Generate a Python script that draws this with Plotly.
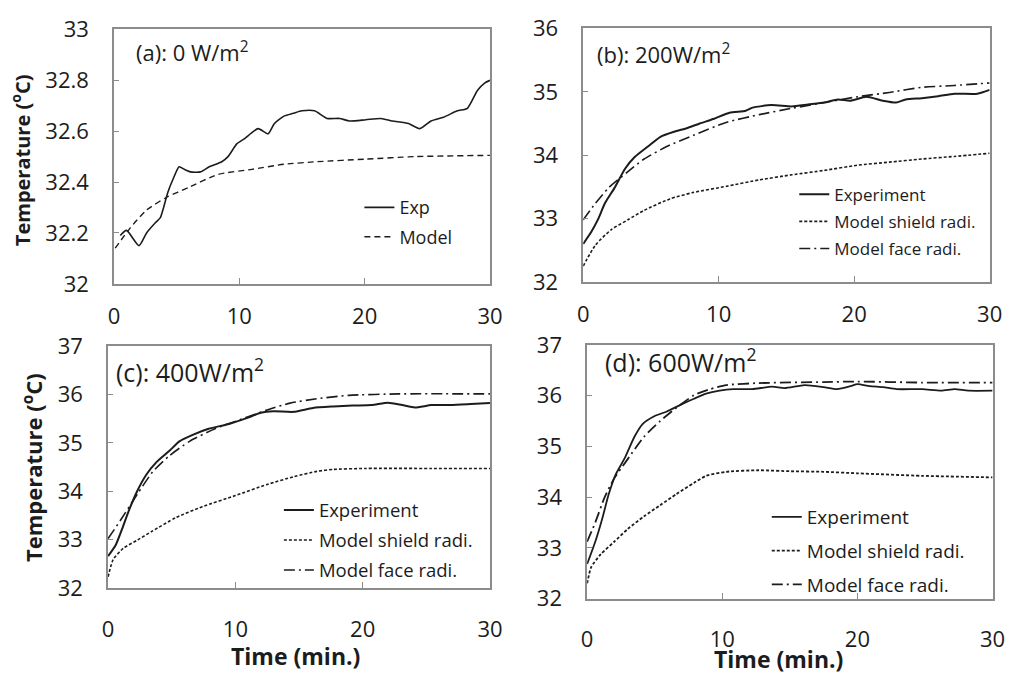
import plotly.graph_objects as go

# ---------------- data ----------------
# (a) 0 W/m2
a_exp_t = [0.5, 1.0, 2.0, 2.6, 3.3, 3.7, 3.9, 4.3, 4.7, 5.2, 5.6, 6.1, 6.9, 7.6, 8.6, 9.1, 9.8, 10.4,
           11.5, 12.3, 12.8, 13.6, 14.3, 15.0, 16.0, 17.0, 18.0, 18.8, 20.1, 21.3, 22.2, 23.5, 24.4,
           25.3, 26.3, 27.4, 28.2, 29.0, 29.6, 30.0]
a_exp_v = [32.19, 32.21, 32.15, 32.20, 32.24, 32.26, 32.29, 32.36, 32.41, 32.46, 32.45, 32.44, 32.44,
           32.46, 32.48, 32.50, 32.55, 32.57, 32.61, 32.59, 32.63, 32.66, 32.67, 32.68, 32.68, 32.65,
           32.65, 32.64, 32.645, 32.65, 32.64, 32.63, 32.61, 32.64, 32.655, 32.68, 32.69, 32.76, 32.79, 32.80]
a_mod_t = [0.1, 1.3, 2.6, 4.2, 6.0, 8.3, 11.0, 13.6, 16.2, 20.1, 24.0, 30.0]
a_mod_v = [32.14, 32.22, 32.29, 32.34, 32.38, 32.43, 32.45, 32.47, 32.48, 32.49, 32.50, 32.505]

# (b) 200 W/m2
b_exp_t = [0, 0.6, 1.1, 1.6, 2.3, 3.1, 3.8, 4.8, 5.7, 6.7, 7.7, 8.6, 9.6, 10.8, 12.0, 12.5, 13.9, 15.4,
           16.6, 17.8, 18.8, 19.7, 20.9, 22.1, 23.1, 23.8, 25.0, 26.2, 27.4, 29.1, 30.0]
b_exp_v = [32.60, 32.79, 32.99, 33.24, 33.48, 33.79, 33.97, 34.14, 34.29, 34.37, 34.43, 34.50, 34.57,
           34.67, 34.70, 34.75, 34.79, 34.77, 34.80, 34.83, 34.88, 34.86, 34.92, 34.86, 34.83, 34.88,
           34.90, 34.93, 34.97, 34.97, 35.03]
b_shd_t = [0, 0.9, 2.1, 3.3, 4.5, 6.4, 8.1, 10.6, 13.0, 15.4, 17.8, 20.2, 22.6, 25.0, 27.4, 30.0]
b_shd_v = [32.25, 32.58, 32.83, 32.98, 33.13, 33.31, 33.41, 33.51, 33.61, 33.69, 33.76, 33.84, 33.89,
           33.94, 33.98, 34.03]
b_fac_t = [0, 0.9, 1.9, 3.3, 4.5, 6.2, 8.1, 10.6, 13.0, 15.4, 17.8, 20.2, 22.6, 25.0, 27.4, 30.0]
b_fac_v = [32.98, 33.24, 33.49, 33.74, 33.94, 34.14, 34.31, 34.52, 34.64, 34.74, 34.83, 34.92, 34.99,
           35.07, 35.10, 35.14]

# (c) 400 W/m2
c_exp_t = [0, 0.6, 1.1, 1.6, 2.3, 3.0, 3.8, 4.8, 5.6, 6.6, 7.9, 9.5, 11.0, 12.0, 13.0, 14.6, 16.1, 17.7,
           19.2, 20.7, 22.0, 23.1, 24.1, 25.4, 26.9, 28.5, 30.0]
c_exp_v = [32.66, 32.89, 33.22, 33.58, 34.01, 34.34, 34.60, 34.83, 35.03, 35.16, 35.29, 35.39, 35.52,
           35.62, 35.65, 35.64, 35.72, 35.75, 35.77, 35.78, 35.83, 35.78, 35.73, 35.78, 35.78, 35.80, 35.82]
c_shd_t = [0, 0.4, 1.2, 2.3, 3.5, 5.3, 7.4, 10.0, 12.5, 14.6, 16.4, 17.7, 20.2, 25.4, 30.0]
c_shd_v = [32.23, 32.59, 32.82, 32.99, 33.18, 33.45, 33.68, 33.91, 34.14, 34.30, 34.41, 34.45, 34.47,
           34.47, 34.47]
c_fac_t = [0, 1.0, 2.3, 3.5, 4.8, 6.4, 8.4, 10.5, 12.5, 14.3, 16.4, 18.9, 22.8, 30.0]
c_fac_v = [33.02, 33.41, 33.94, 34.40, 34.73, 35.03, 35.29, 35.49, 35.68, 35.82, 35.91, 35.98, 36.01, 36.01]

# (d) 600 W/m2
d_exp_t = [0, 0.6, 1.1, 1.6, 2.1, 2.8, 3.5, 4.1, 5.0, 5.9, 6.9, 7.9, 8.8, 9.8, 10.8, 12.2, 13.7, 14.6,
           16.1, 17.5, 18.5, 19.5, 20.0, 20.9, 21.9, 22.9, 24.8, 26.2, 27.2, 28.2, 30.0]
d_exp_v = [32.68, 33.12, 33.56, 34.06, 34.44, 34.78, 35.19, 35.44, 35.60, 35.69, 35.82, 35.94, 36.04,
           36.10, 36.13, 36.13, 36.18, 36.15, 36.21, 36.17, 36.13, 36.19, 36.23, 36.19, 36.17, 36.13,
           36.13, 36.10, 36.13, 36.10, 36.10]
d_shd_t = [0, 0.3, 1.0, 2.0, 3.0, 4.2, 5.4, 6.6, 7.9, 8.8, 10.3, 12.7, 15.1, 17.5, 20.0, 24.8, 30.0]
d_shd_v = [32.30, 32.62, 32.87, 33.12, 33.37, 33.62, 33.84, 34.06, 34.28, 34.42, 34.50, 34.53, 34.51,
           34.50, 34.47, 34.42, 34.39]
d_fac_t = [0, 0.6, 1.3, 2.0, 3.0, 4.2, 5.4, 6.6, 7.9, 9.1, 10.3, 12.7, 17.5, 20.0, 24.8, 30.0]
d_fac_v = [33.12, 33.50, 34.00, 34.37, 34.75, 35.19, 35.50, 35.76, 36.01, 36.13, 36.21, 36.25, 36.27,
           36.28, 36.26, 36.26]

x_ticks = [0, 10, 20, 30]
panel_labels = ["(a): 0 W/m<sup>2</sup>", "(b): 200W/m<sup>2</sup>",
                "(c): 400W/m<sup>2</sup>", "(d): 600W/m<sup>2</sup>"]
y_title = "Temperature (<sup>o</sup>C)"
x_title = "Time (min.)"

# ---------------- style ----------------
FONT = "Open Sans"
INK = "#1c1c1c"
AX = "#8c8c8c"
W, H = 1036, 690

DOT = "3px,2px"
DASHDOT = "11px,4px,2px,4px"
DASH = "6px,4px"

fig = go.Figure()

def add(x, y, name, ax, leg, dash, width):
    fig.add_trace(go.Scatter(
        x=x, y=y, name=name, mode="lines", xaxis="x" + ax, yaxis="y" + ax,
        legend=leg, legendgroup=leg + name,
        line=dict(color=INK, width=width, dash=dash, shape="spline", smoothing=0.6),
    ))

add(a_exp_t, a_exp_v, "Exp", "", "legend", "solid", 1.6)
add(a_mod_t, a_mod_v, "Model", "", "legend", DASH, 1.4)

add(b_exp_t, b_exp_v, "Experiment", "2", "legend2", "solid", 2.0)
add(b_shd_t, b_shd_v, "Model shield radi.", "2", "legend2", DOT, 1.6)
add(b_fac_t, b_fac_v, "Model face radi.", "2", "legend2", DASHDOT, 1.6)

add(c_exp_t, c_exp_v, "Experiment", "3", "legend3", "solid", 2.0)
add(c_shd_t, c_shd_v, "Model shield radi.", "3", "legend3", DOT, 1.6)
add(c_fac_t, c_fac_v, "Model face radi.", "3", "legend3", DASHDOT, 1.6)

add(d_exp_t, d_exp_v, "Experiment", "4", "legend4", "solid", 1.8)
add(d_shd_t, d_shd_v, "Model shield radi.", "4", "legend4", DOT, 1.8)
add(d_fac_t, d_fac_v, "Model face radi.", "4", "legend4", DASHDOT, 1.8)

def px_x(p):
    return p / W

def px_y(p):
    return 1 - p / H

# plot boxes in pixels: left, right, top, bottom
boxes = [(110, 493, 14, 280), (588, 1002, 13, 278), (104, 493, 345, 598), (592, 1005, 344, 609)]
yranges = [(32, 33, 0.2), (32, 36, 1), (32, 37, 1), (32, 37, 1)]
xstand = [12, 12, 21, 20]

layout = dict(
    width=W, height=H, margin=dict(l=0, r=0, t=0, b=0),
    paper_bgcolor="white", plot_bgcolor="white",
    font=dict(family=FONT, color=INK),
)
for i, ((l, r, t, b), (y0, y1, dy)) in enumerate(zip(boxes, yranges)):
    sfx = "" if i == 0 else str(i + 1)
    layout["xaxis" + sfx] = dict(
        domain=[px_x(l), px_x(r)], range=[0, 30], anchor="y" + sfx,
        tickvals=x_ticks, ticks="inside", ticklen=6, tickcolor=AX, tickwidth=1,
        showline=True, linecolor=AX, linewidth=1.5, mirror=True, showgrid=False, zeroline=False,
        tickfont=dict(family=FONT, size=22, color=INK), ticklabelstandoff=xstand[i],
    )
    layout["yaxis" + sfx] = dict(
        domain=[px_y(b), px_y(t)], range=[y0, y1], anchor="x" + sfx, dtick=dy, tick0=y0,
        ticks="inside", ticklen=5, tickcolor=AX, tickwidth=1,
        showline=True, linecolor=AX, linewidth=1.5, mirror=True, showgrid=False, zeroline=False,
        tickfont=dict(family=FONT, size=22, color=INK), ticklabelstandoff=19,
    )

def legend(x_px, y_px, size, gap):
    return dict(x=px_x(x_px), y=px_y(y_px), xanchor="left", yanchor="top",
                bgcolor="rgba(0,0,0,0)", borderwidth=0, itemwidth=30,
                font=dict(family=FONT, size=size, color=INK), tracegroupgap=gap,
                traceorder="grouped")

layout["legend"] = legend(360, 181, 18, 3)
layout["legend2"] = legend(803, 168, 17, 2)
layout["legend3"] = legend(278, 497, 18.5, 3)
layout["legend4"] = legend(775, 504, 19, 6)

annotations = []
label_pos = [(130, 37, 22), (600, 39, 22), (110, 371, 25), (608, 360, 25)]
for txt, (x, y, s) in zip(panel_labels, label_pos):
    annotations.append(dict(text=txt, x=px_x(x), y=px_y(y), xref="paper", yref="paper",
                            xanchor="left", yanchor="middle", showarrow=False,
                            font=dict(family=FONT, size=s, color=INK)))
for (x, y, s) in [(15, 151, 20), (27, 472, 22)]:
    annotations.append(dict(text="<b>" + y_title + "</b>", x=px_x(x), y=px_y(y), xref="paper",
                            yref="paper", xanchor="center", yanchor="middle", textangle=-90,
                            showarrow=False, font=dict(family=FONT, size=s, color=INK)))
for (x, y) in [(295, 669), (787, 672)]:
    annotations.append(dict(text="<b>" + x_title + "</b>", x=px_x(x), y=px_y(y), xref="paper",
                            yref="paper", xanchor="center", yanchor="middle", showarrow=False,
                            font=dict(family=FONT, size=23, color=INK)))
layout["annotations"] = annotations

fig.update_layout(**layout)
fig.write_html("out.html")
